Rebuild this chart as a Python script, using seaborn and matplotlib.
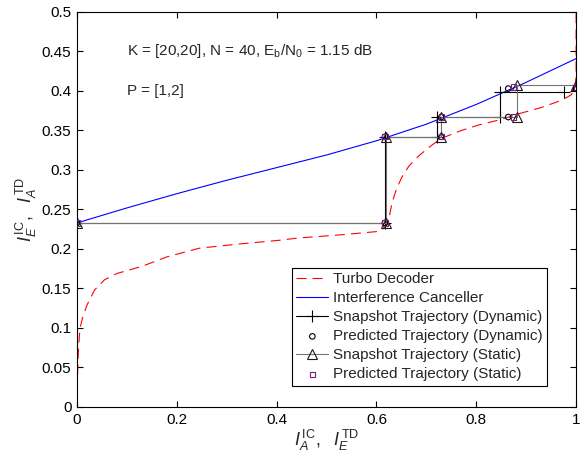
import numpy as np
import pandas as pd
import matplotlib
matplotlib.use("Agg")
import matplotlib.pyplot as plt
import seaborn as sns

# -----------------------------
# Data
# -----------------------------
# Turbo decoder curve (x = I_E^TD, y = I_A^TD)
td_x = [0, 0.001, 0.003, 0.006, 0.012, 0.02, 0.035, 0.055, 0.08, 0.13, 0.18, 0.245,
        0.32, 0.405, 0.445, 0.53, 0.6, 0.612, 0.62, 0.626, 0.631, 0.64, 0.651, 0.665,
        0.685, 0.71, 0.73, 0.77, 0.805, 0.85, 0.884, 0.93, 0.97, 0.99, 0.998, 1.0, 1.0]
td_y = [0, 0.04, 0.075, 0.1, 0.115, 0.129, 0.148, 0.161, 0.169, 0.178, 0.19, 0.201,
        0.206, 0.211, 0.214, 0.218, 0.222, 0.225, 0.23, 0.242, 0.258, 0.276, 0.291, 0.305,
        0.318, 0.331, 0.34, 0.35, 0.357, 0.364, 0.371, 0.379, 0.388, 0.395, 0.403, 0.42, 0.5]

# Interference canceller curve
ic_x = [0, 0.1, 0.2, 0.3, 0.4, 0.5, 0.6, 0.7, 0.8, 0.9, 1.0]
ic_y = [0.233, 0.252, 0.270, 0.287, 0.303, 0.319, 0.337, 0.358, 0.383, 0.411, 0.441]

# Trajectories
snap_dyn_x = [0, 0.617, 0.617, 0.722, 0.722, 0.848, 0.848, 0.976]
snap_dyn_y = [0.233, 0.233, 0.342, 0.342, 0.367, 0.367, 0.399, 0.399]

pred_dyn_x = [0, 0.617, 0.617, 0.73, 0.73, 0.864, 0.864, 1.0]
pred_dyn_y = [0.233, 0.233, 0.342, 0.342, 0.367, 0.367, 0.403, 0.403]

snap_stat_x = [0, 0.619, 0.619, 0.73, 0.73, 0.882, 0.882, 1.0]
snap_stat_y = [0.233, 0.233, 0.342, 0.342, 0.367, 0.367, 0.407, 0.407]

pred_stat_x = [0, 0.617, 0.617, 0.73, 0.73, 0.874, 0.874, 1.0]
pred_stat_y = [0.233, 0.233, 0.342, 0.342, 0.367, 0.367, 0.405, 0.405]

x_ticks = [0, 0.2, 0.4, 0.6, 0.8, 1]
x_tick_labels = ["0", "0.2", "0.4", "0.6", "0.8", "1"]
y_ticks = [0, 0.05, 0.1, 0.15, 0.2, 0.25, 0.3, 0.35, 0.4, 0.45, 0.5]
y_tick_labels = ["0", "0.05", "0.1", "0.15", "0.2", "0.25", "0.3", "0.35", "0.4", "0.45", "0.5"]

# -----------------------------
# Style
# -----------------------------
sns.set_style("ticks")
plt.rcParams["font.family"] = ["Liberation Sans", "DejaVu Sans"]
plt.rcParams["mathtext.fontset"] = "custom"
plt.rcParams["mathtext.rm"] = "Liberation Sans"
plt.rcParams["mathtext.it"] = "Liberation Sans:italic"
plt.rcParams["font.size"] = 11

fig = plt.figure(figsize=(5.8, 4.59), dpi=100)
ax = fig.add_axes([0.1328, 0.1133, 0.8605, 0.8606])

lw = 0.8
sns.lineplot(x=td_x, y=td_y, sort=False, estimator=None, ax=ax, color="red",
             lw=lw, linestyle=(0, (9, 5.5)), label="Turbo Decoder")
sns.lineplot(x=ic_x, y=ic_y, sort=False, estimator=None, ax=ax, color="blue",
             lw=lw, label="Interference Canceller")
sns.lineplot(x=snap_dyn_x, y=snap_dyn_y, sort=False, estimator=None, ax=ax, color="black",
             lw=lw, marker="+", markersize=9, markeredgewidth=0.8, markeredgecolor="black",
             label="Snapshot Trajectory (Dynamic)")
sns.scatterplot(x=pred_dyn_x, y=pred_dyn_y, ax=ax, marker="o", s=16, facecolor="none",
                edgecolor="black", linewidth=0.8, label="Predicted Trajectory (Dynamic)", zorder=3)
sns.lineplot(x=snap_stat_x, y=snap_stat_y, sort=False, estimator=None, ax=ax, color="0.45",
             lw=lw, marker="^", markersize=7, markerfacecolor="none",
             markeredgecolor="0.1", markeredgewidth=0.8,
             label="Snapshot Trajectory (Static)")
sns.scatterplot(x=pred_stat_x, y=pred_stat_y, ax=ax, marker="s", s=14, facecolor="none",
                edgecolor="#7a1f7a", linewidth=0.8, label="Predicted Trajectory (Static)", zorder=3)

ax.set_xlim(0, 1)
ax.set_ylim(0, 0.5)
ax.set_xticks(x_ticks)
ax.set_xticklabels(x_tick_labels)
ax.set_yticks(y_ticks)
ax.set_yticklabels(y_tick_labels)
ax.tick_params(direction="in", length=4, width=0.8, top=True, right=True,
               labelsize=11, colors="black", pad=4)
for sp in ax.spines.values():
    sp.set_visible(True)
    sp.set_linewidth(0.8)
    sp.set_color("black")

ax.set_xlabel(r"$I_A^{\,\mathrm{IC}},\ \ I_E^{\,\mathrm{TD}}$", fontsize=13, labelpad=1)
ax.set_ylabel(r"$I_E^{\,\mathrm{IC}},\ \ I_A^{\,\mathrm{TD}}$", fontsize=13, labelpad=2)

ax.text(0.1, 0.45, r"K = [20,20], N = 40, E$_\mathrm{b}$/N$_\mathrm{0}$ = 1.15 dB",
        va="center", ha="left", fontsize=11)
ax.text(0.1, 0.40, "P = [1,2]", va="center", ha="left", fontsize=11)

leg = ax.legend(loc="lower right", bbox_to_anchor=(0.942, 0.053), fontsize=11,
                frameon=True, fancybox=False, framealpha=1, edgecolor="black",
                borderpad=0.3, labelspacing=0.33, handlelength=2.1,
                handletextpad=0.3, borderaxespad=0)
leg.get_frame().set_linewidth(0.8)

fig.savefig("out.png", dpi=100)
